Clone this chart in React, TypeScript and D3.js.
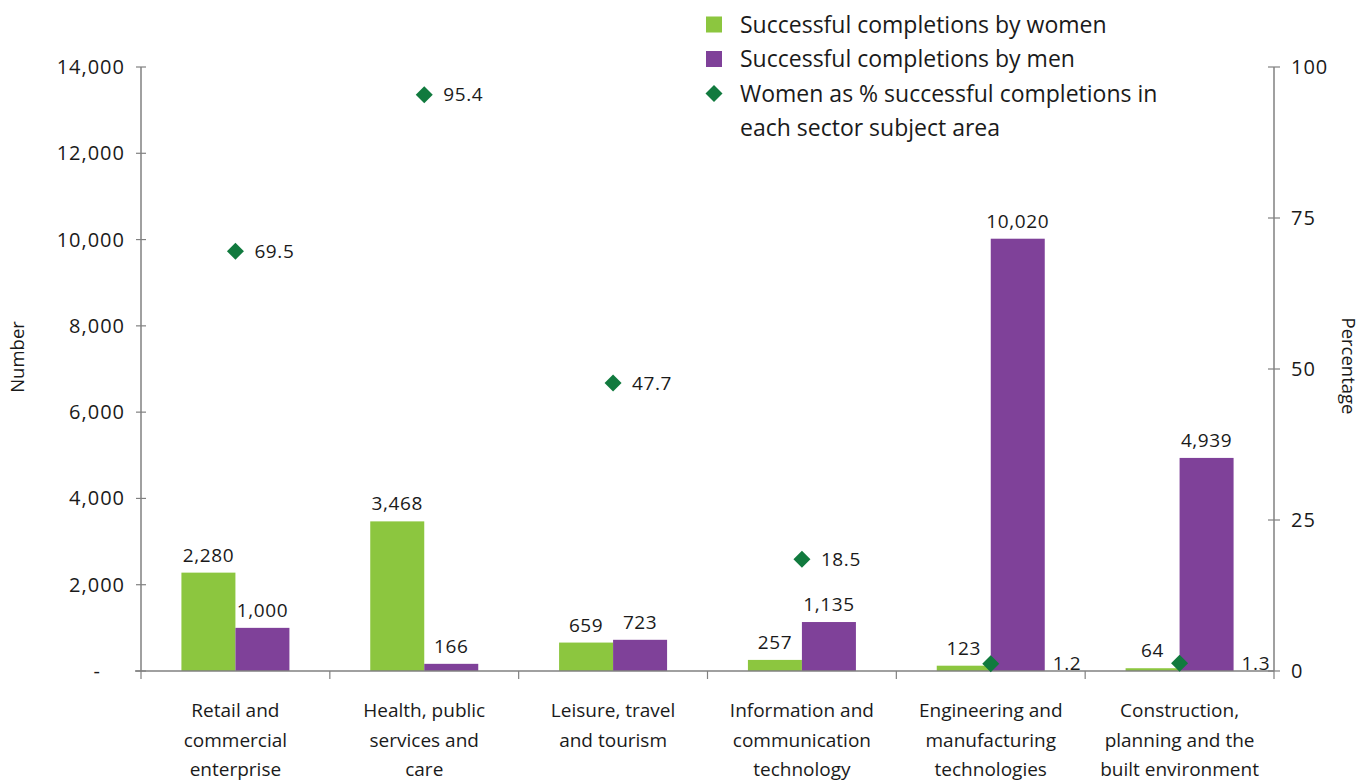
import React from "react";
import * as d3 from "d3";

const categories: string[][] = [
  ["Retail and", "commercial", "enterprise"],
  ["Health, public", "services and", "care"],
  ["Leisure, travel", "and tourism"],
  ["Information and", "communication", "technology"],
  ["Engineering and", "manufacturing", "technologies"],
  ["Construction,", "planning and the", "built environment"],
];
const women: number[] = [2280, 3468, 659, 257, 123, 64];
const men: number[] = [1000, 166, 723, 1135, 10020, 4939];
const womenPct: number[] = [69.5, 95.4, 47.7, 18.5, 1.2, 1.3];
const leftTicks: number[] = [0, 2000, 4000, 6000, 8000, 10000, 12000, 14000];
const rightTicks: number[] = [0, 25, 50, 75, 100];
const legendItems: { label: string[]; kind: string }[] = [
  { label: ["Successful completions by women"], kind: "women" },
  { label: ["Successful completions by men"], kind: "men" },
  { label: ["Women as % successful completions in", "each sector subject area"], kind: "pct" },
];

const GREEN = "#8cc63f";
const PURPLE = "#7f4199";
const DIAMOND = "#117a3e";
const AXIS = "#808080";
const FONT = "'Open Sans', sans-serif";
const TEXT = "#1a1a1a";

export default function App() {
  const left = 141, right = 1274, top = 67, bottom = 671;
  const idx = categories.map((_, i) => i);
  const x = d3.scaleBand<number>().domain(idx).range([left, right]).paddingInner(0).paddingOuter(0);
  const yL = d3.scaleLinear().domain([0, 14000]).range([bottom, top]);
  const yR = d3.scaleLinear().domain([0, 100]).range([bottom, top]);
  const barW = 54;
  const fmt = d3.format(",");
  const center = (i: number) => (x(i) as number) + x.bandwidth() / 2;
  const boundaries = idx.map((i) => x(i) as number).concat([right]);

  return (
    <svg width={1366} height={781} style={{ position: "absolute", left: 0, top: 0, background: "#fff" }} fontFamily={FONT}>
      {/* bars */}
      {idx.map((i) => (
        <g key={"b" + i}>
          <rect x={center(i) - barW} y={yL(women[i])} width={barW} height={bottom - yL(women[i])} fill={GREEN} />
          <rect x={center(i)} y={yL(men[i])} width={barW} height={bottom - yL(men[i])} fill={PURPLE} />
          <text x={center(i) - barW / 2} y={yL(women[i]) - 11} textAnchor="middle" fontSize={19} letterSpacing={0.6} fill={TEXT}>{fmt(women[i])}</text>
          <text x={center(i) + barW / 2} y={yL(men[i]) - 11} textAnchor="middle" fontSize={19} letterSpacing={0.6} fill={TEXT}>{fmt(men[i])}</text>
        </g>
      ))}
      {/* axes */}
      <line x1={left} x2={left} y1={top} y2={bottom} stroke={AXIS} strokeWidth={1.5} />
      <line x1={right} x2={right} y1={top} y2={bottom} stroke={AXIS} strokeWidth={1.5} />
      <line x1={left - 6} x2={right} y1={bottom} y2={bottom} stroke={AXIS} strokeWidth={1.5} />
      {boundaries.map((b, k) => (
        <line key={"bt" + k} x1={b} x2={b} y1={bottom} y2={bottom + 8} stroke={AXIS} strokeWidth={1.2} />
      ))}
      {leftTicks.map((t) => (
        <g key={"lt" + t}>
          <line x1={left - 5} x2={left + 5} y1={yL(t)} y2={yL(t)} stroke={AXIS} strokeWidth={1.2} />
          <text x={t === 0 ? 101 : 125} y={yL(t)} dy="0.35em" textAnchor="end" fontSize={20} letterSpacing={1} fill={TEXT}>{t === 0 ? "-" : fmt(t)}</text>
        </g>
      ))}
      {rightTicks.map((t) => (
        <g key={"rt" + t}>
          <line x1={right - 6} x2={right + 6} y1={yR(t)} y2={yR(t)} stroke={AXIS} strokeWidth={1.2} />
          <text x={1291} y={yR(t)} dy="0.35em" textAnchor="start" fontSize={20} letterSpacing={1} fill={TEXT}>{t}</text>
        </g>
      ))}
      {/* diamonds */}
      {idx.map((i) => {
        const cx = center(i), cy = yR(womenPct[i]);
        const s = 8.5;
        const overlap = yL(men[i]) < cy;
        const lx = overlap ? cx + barW + 8 : cx + 19;
        return (
          <g key={"d" + i}>
            <path d={`M${cx},${cy - s}L${cx + s},${cy}L${cx},${cy + s}L${cx - s},${cy}Z`} fill={DIAMOND} />
            <text x={lx} y={cy} dy="0.35em" fontSize={19} letterSpacing={0.6} fill={TEXT}>{womenPct[i].toFixed(1)}</text>
          </g>
        );
      })}
      {/* category labels */}
      {idx.map((i) => (
        <text key={"c" + i} x={center(i)} y={717} textAnchor="middle" fontSize={19} fill={TEXT}>
          {categories[i].map((ln, k) => (
            <tspan key={k} x={center(i)} dy={k === 0 ? 0 : 29.5}>{ln}</tspan>
          ))}
        </text>
      ))}
      {/* axis titles */}
      <text transform="translate(24,357) rotate(-90)" textAnchor="middle" fontSize={18.5} fill={TEXT}>Number</text>
      <text transform="translate(1342,366) rotate(90)" textAnchor="middle" fontSize={18.5} fill={TEXT}>Percentage</text>
      {/* legend */}
      {legendItems.map((it, k) => {
        const cy = 24.5 + k * 34.5;
        return (
          <g key={"lg" + k}>
            {it.kind === "pct" ? (
              <path d={`M714,${cy - 8.5}L722.5,${cy}L714,${cy + 8.5}L705.5,${cy}Z`} fill={DIAMOND} />
            ) : (
              <rect x={706} y={cy - 8} width={16} height={16} fill={it.kind === "women" ? GREEN : PURPLE} />
            )}
            <text x={740} y={cy} fontSize={23} fill={TEXT}>
              {it.label.map((ln, j) => (
                <tspan key={j} x={740} dy={j === 0 ? "0.35em" : 34.5}>{ln}</tspan>
              ))}
            </text>
          </g>
        );
      })}
    </svg>
  );
}
